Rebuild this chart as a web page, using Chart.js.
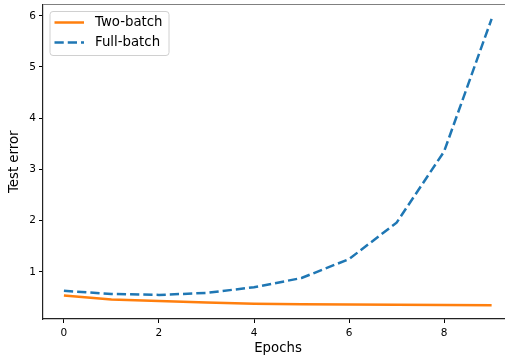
<!DOCTYPE html>
<html>
<head>
<meta charset="utf-8">
<script src="https://cdn.jsdelivr.net/npm/chart.js@4"></script>
<style>
  html, body { margin: 0; padding: 0; background: #fff; overflow: hidden; }
  #wrap { width: 515px; height: 360px; }
</style>
</head>
<body>
<div id="wrap"><canvas id="chart" width="515" height="360"></canvas></div>
<script>
const epochs = [0, 1, 2, 3, 4, 5, 6, 7, 8, 9]
const twoBatch = [0.54, 0.46, 0.43, 0.40, 0.38, 0.37, 0.365, 0.36, 0.355, 0.35]
const fullBatch = [0.63, 0.57, 0.55, 0.59, 0.70, 0.88, 1.25, 1.96, 3.35, 5.94]
const xTicks = [0, 2, 4, 6, 8]
const yTicks = [1, 2, 3, 4, 5, 6]

const font = "DejaVu Sans"

// legend box drawn inside the plot, matplotlib style
const innerLegend = {
    id: "innerLegend",
    afterDraw(chart) {
        const { ctx, chartArea } = chart
        // top spine is a lighter grey line
        ctx.save()
        ctx.strokeStyle = "#808080"
        ctx.lineWidth = 1.2
        ctx.beginPath()
        ctx.moveTo(chartArea.left, chartArea.top)
        ctx.lineTo(chartArea.right, chartArea.top)
        ctx.stroke()

        const x0 = chartArea.left + 7
        const y0 = chartArea.top + 7
        ctx.fillStyle = "rgba(255,255,255,0.8)"
        ctx.strokeStyle = "#d0d0d0"
        ctx.lineWidth = 1
        ctx.beginPath()
        ctx.roundRect(x0, y0, 119, 44, 3)
        ctx.fill()
        ctx.stroke()

        ctx.font = "13.3px " + font
        ctx.textBaseline = "middle"
        chart.data.datasets.forEach((ds, i) => {
            const yy = y0 + 11 + i * 20
            ctx.strokeStyle = ds.borderColor
            ctx.lineWidth = ds.borderWidth
            ctx.setLineDash(ds.borderDash || [])
            ctx.beginPath()
            ctx.moveTo(x0 + 4.5, yy)
            ctx.lineTo(x0 + 34, yy)
            ctx.stroke()
            ctx.setLineDash([])
            ctx.fillStyle = "#000"
            ctx.fillText(ds.label, x0 + 45, yy + 0.5)
        })
        ctx.restore()
    }
}

new Chart(document.getElementById("chart"), {
    type: "line",
    data: {
        datasets: [
            {
                label: "Two-batch",
                data: epochs.map((e, i) => ({ x: e, y: twoBatch[i] })),
                borderColor: "#ff7f0e",
                borderWidth: 2.5,
                pointRadius: 0,
                tension: 0
            },
            {
                label: "Full-batch",
                data: epochs.map((e, i) => ({ x: e, y: fullBatch[i] })),
                borderColor: "#1f77b4",
                borderWidth: 2.5,
                borderDash: [9.25, 4],
                pointRadius: 0,
                tension: 0
            }
        ]
    },
    options: {
        responsive: false,
        animation: false,
        events: [],
        layout: { padding: { top: 4.5, right: 2, left: 0, bottom: 0 } },
        plugins: { legend: { display: false }, tooltip: { enabled: false } },
        scales: {
            x: {
                type: "linear",
                min: -0.44,
                max: 9.45,
                afterBuildTicks: s => { s.ticks = xTicks.map(v => ({ value: v })) },
                afterFit: s => { s.height = 41; s.paddingLeft = 0; s.paddingRight = 0 },
                grid: { drawOnChartArea: false, tickLength: 4, tickColor: "#000", tickWidth: 1 },
                border: { color: "#222", width: 1.2 },
                ticks: { color: "#000", font: { family: font, size: 10.5 }, padding: 4, maxRotation: 0 },
                title: { display: true, text: "Epochs", color: "#000", font: { family: font, size: 13.3 }, padding: { top: 0, bottom: 3.5 } }
            },
            y: {
                min: 0.08,
                max: 6.22,
                afterBuildTicks: s => { s.ticks = yTicks.map(v => ({ value: v })) },
                afterFit: s => { s.width = 43; s.paddingTop = 0; s.paddingBottom = 0 },
                grid: { drawOnChartArea: false, tickLength: 4, tickColor: "#000", tickWidth: 1 },
                border: { color: "#222", width: 1.2 },
                ticks: { color: "#000", font: { family: font, size: 10.5 }, padding: 3 },
                title: { display: true, text: "Test error", color: "#000", font: { family: font, size: 13.3 }, padding: { top: 7, bottom: 0 } }
            }
        }
    },
    plugins: [innerLegend]
})
</script>
</body>
</html>
